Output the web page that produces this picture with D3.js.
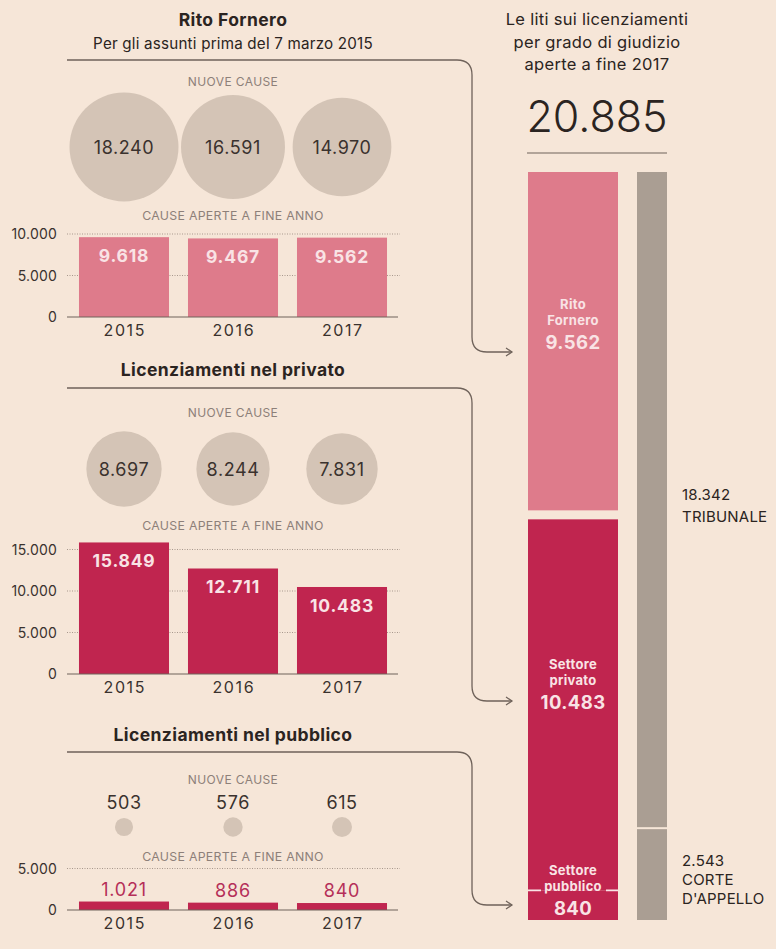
<!DOCTYPE html>
<html>
<head>
<meta charset="utf-8">
<script src="https://cdn.jsdelivr.net/npm/d3@7"></script>
<style>
  body { margin: 0; background: #f6e6d8; }
  svg { display: block; font-family: Inter, "Open Sans", sans-serif; }
</style>
</head>
<body>
<svg id="chart" width="776" height="949"></svg>
<script>
// --- data ---
const years = ["2015", "2016", "2017"];

const forneroNew = [18240, 16591, 14970];
const forneroOpen = [9618, 9467, 9562];
const forneroTicks = [0, 5000, 10000];

const privatoNew = [8697, 8244, 7831];
const privatoOpen = [15849, 12711, 10483];
const privatoTicks = [0, 5000, 10000, 15000];

const pubblicoNew = [503, 576, 615];
const pubblicoOpen = [1021, 886, 840];
const pubblicoTicks = [0, 5000];

const totalOpen = 20885;
const stackNames = [["Rito", "Fornero"], ["Settore", "privato"], ["Settore", "pubblico"]];
const stackValues = [9562, 10483, 840];
const gradeNames = [["TRIBUNALE"], ["CORTE", "D'APPELLO"]];
const gradeValues = [18342, 2543];

// --- styles ---
const INK = "#2b2421";
const GREY_TXT = "#8d8079";
const LINE = "#6f625a";
const CIRCLE = "#d4c4b6";
const PINK = "#de7b8b";
const CRIMSON = "#c0254f";
const GREY_BAR = "#aa9e93";
const LABEL_LIGHT = "#f9e3e5";

const it = d3.formatLocale({ decimal: ",", thousands: ".", grouping: [3], currency: ["€", ""] });
const fmt = it.format(",d");

const svg = d3.select("#chart");

// shared scales
const x = d3.scaleBand().domain(years).range([69.5, 396.5]).paddingInner(0.174).paddingOuter(0.087);
const r = d3.scaleSqrt().domain([0, 18240]).range([0, 54.5]);

const sections = [
  {
    title: "Rito Fornero", sub: "Per gli assunti prima del 7 marzo 2015",
    newVals: forneroNew, openVals: forneroOpen, ticks: forneroTicks, color: PINK,
    titleY: 26, subY: 49, lineY: 60, arrowY: 352, nuoveY: 86, circleY: 147,
    causeY: 220, base: 317, yearY: 336, small: false
  },
  {
    title: "Licenziamenti nel privato", sub: null,
    newVals: privatoNew, openVals: privatoOpen, ticks: privatoTicks, color: CRIMSON,
    titleY: 376, lineY: 388, arrowY: 701, nuoveY: 417, circleY: 469,
    causeY: 530, base: 674, yearY: 693, small: false
  },
  {
    title: "Licenziamenti nel pubblico", sub: null,
    newVals: pubblicoNew, openVals: pubblicoOpen, ticks: pubblicoTicks, color: CRIMSON,
    titleY: 741, lineY: 752, arrowY: 905, nuoveY: 784, circleY: 827,
    causeY: 861, base: 910, yearY: 929, small: true
  }
];

function connector(g, y0, y1) {
  const xr = 472, rad = 15;
  const p = d3.path();
  p.moveTo(67, y0);
  p.lineTo(xr - rad, y0);
  p.quadraticCurveTo(xr, y0, xr, y0 + rad);
  p.lineTo(xr, y1 - rad);
  p.quadraticCurveTo(xr, y1, xr + rad, y1);
  p.lineTo(512, y1);
  g.append("path").attr("d", p.toString()).attr("fill", "none")
    .attr("stroke", LINE).attr("stroke-width", 1.3);
  g.append("path").attr("d", `M506,${y1 - 4}L512,${y1}L506,${y1 + 4}`)
    .attr("fill", "none").attr("stroke", LINE).attr("stroke-width", 1.2);
}

sections.forEach(s => {
  const g = svg.append("g");
  const cx = 233;

  g.append("text").attr("x", cx).attr("y", s.titleY).attr("text-anchor", "middle")
    .attr("font-size", 17.5).attr("font-weight", 700).attr("letter-spacing", 0.4)
    .attr("fill", INK).text(s.title);
  if (s.sub) {
    g.append("text").attr("x", cx).attr("y", s.subY).attr("text-anchor", "middle")
      .attr("font-size", 15.2).attr("letter-spacing", 0.2).attr("fill", INK).text(s.sub);
  }
  connector(g, s.lineY, s.arrowY);

  g.append("text").attr("x", cx).attr("y", s.nuoveY).attr("text-anchor", "middle")
    .attr("font-size", 12).attr("letter-spacing", 0.4).attr("fill", GREY_TXT).text("NUOVE CAUSE");

  // new cases: circles sized by area
  const circ = g.selectAll(".nc").data(s.newVals).join("g")
    .attr("transform", (d, i) => `translate(${x(years[i]) + x.bandwidth() / 2},${s.circleY})`);
  circ.append("circle").attr("r", d => r(d)).attr("fill", CIRCLE);
  circ.append("text").attr("text-anchor", "middle")
    .attr("y", s.small ? -18 : 6.5)
    .attr("font-size", 18).attr("letter-spacing", 0.6).attr("fill", "#3a322e").text(d => fmt(d));

  g.append("text").attr("x", cx).attr("y", s.causeY).attr("text-anchor", "middle")
    .attr("font-size", 12.3).attr("letter-spacing", 0.3).attr("fill", GREY_TXT).text("CAUSE APERTE A FINE ANNO");

  // open cases: bars
  const y = d3.scaleLinear().domain([0, 10000]).range([s.base, s.base - 83]);
  g.selectAll(".grid").data(s.ticks.filter(t => t > 0)).join("line")
    .attr("x1", 67).attr("x2", 400).attr("y1", d => y(d)).attr("y2", d => y(d))
    .attr("stroke", "#a8988d").attr("stroke-width", 1).attr("stroke-dasharray", "1,1.5");
  g.selectAll(".tick").data(s.ticks).join("text")
    .attr("x", 57).attr("y", d => y(d) + 5).attr("text-anchor", "end")
    .attr("font-size", 14).attr("letter-spacing", 0.2).attr("fill", "#3a322e").text(d => fmt(d));

  g.selectAll(".bar").data(s.openVals).join("rect")
    .attr("x", (d, i) => x(years[i])).attr("width", x.bandwidth())
    .attr("y", d => y(d)).attr("height", d => s.base - y(d)).attr("fill", s.color);

  g.selectAll(".bl").data(s.openVals).join("text")
    .attr("x", (d, i) => x(years[i]) + x.bandwidth() / 2)
    .attr("y", d => s.small ? y(d) - 6 : y(d) + 25)
    .attr("text-anchor", "middle")
    .attr("font-size", s.small ? 18 : 17.5).attr("font-weight", s.small ? 400 : 700)
    .attr("letter-spacing", 0.8)
    .attr("fill", s.small ? "#b52f58" : LABEL_LIGHT).text(d => fmt(d));

  const axis = g.append("g").attr("transform", `translate(0,${s.base})`)
    .call(d3.axisBottom(x).tickSize(0).tickPadding(0));
  axis.select(".domain").attr("d", "M67,0H398").attr("stroke", LINE).attr("stroke-width", 1.2);
  axis.selectAll("text").attr("y", s.yearY - s.base).attr("dy", 0)
    .attr("font-size", 16).attr("letter-spacing", 1.6).attr("dx", 0.8)
    .attr("font-family", "Inter, sans-serif").attr("fill", "#3a322e");
});

// --- right panel: stacked totals ---
const rp = svg.append("g");
const titleLines = ["Le liti sui licenziamenti", "per grado di giudizio", "aperte a fine 2017"];
rp.selectAll(".tl").data(titleLines).join("text")
  .attr("x", 597).attr("y", (d, i) => 25 + i * 22.5).attr("text-anchor", "middle")
  .attr("font-size", 16.5).attr("letter-spacing", 0.3).attr("fill", INK).text(d => d);
rp.append("text").attr("x", 597).attr("y", 132).attr("text-anchor", "middle")
  .attr("font-size", 43).attr("font-weight", 300).attr("fill", INK).text(fmt(totalOpen));
rp.append("line").attr("x1", 527).attr("x2", 667).attr("y1", 153).attr("y2", 153)
  .attr("stroke", LINE).attr("stroke-width", 1.2);

const stackTop = 172, stackBottom = 920, gapL = 9, gapR = 2;
const yL = d3.scaleLinear().domain([0, totalOpen]).range([0, stackBottom - stackTop - gapL]);
const yR = d3.scaleLinear().domain([0, totalOpen]).range([0, stackBottom - stackTop - gapR]);

const stackCols = [PINK, CRIMSON, CRIMSON];
const labelCenters = [342, 702, 908];
let acc = 0;
stackValues.forEach((v, i) => {
  const y0 = stackTop + yL(acc) + (i > 0 ? gapL : 0);
  const h = yL(v);
  rp.append("rect").attr("x", 528).attr("y", y0).attr("width", 90).attr("height", h)
    .attr("fill", stackCols[i]);
  if (i === 2) {
    rp.append("path").attr("d", `M528,${y0}H541M606,${y0}H618`)
      .attr("stroke", LABEL_LIGHT).attr("stroke-width", 1.8);
  }
  const lc = labelCenters[i];
  stackNames[i].forEach((n, j) => {
    rp.append("text").attr("x", 573).attr("y", lc - 33 + j * 16).attr("text-anchor", "middle")
      .attr("font-size", 13).attr("font-weight", 700).attr("letter-spacing", 0.3)
      .attr("fill", LABEL_LIGHT).text(n);
  });
  rp.append("text").attr("x", 573).attr("y", lc + 7).attr("text-anchor", "middle")
    .attr("font-size", 18.5).attr("font-weight", 700).attr("letter-spacing", 0.4)
    .attr("fill", LABEL_LIGHT).text(fmt(v));
  acc += v;
});

const gradeLabelY = [500, 866];
acc = 0;
gradeValues.forEach((v, i) => {
  const y0 = stackTop + yR(acc) + (i > 0 ? gapR : 0);
  rp.append("rect").attr("x", 637).attr("y", y0).attr("width", 30).attr("height", yR(v))
    .attr("fill", GREY_BAR);
  const lines = [fmt(v)].concat(gradeNames[i]);
  lines.forEach((t, j) => {
    rp.append("text").attr("x", 682).attr("y", gradeLabelY[i] + j * (i === 0 ? 22 : 19))
      .attr("font-size", 15).attr("letter-spacing", 0.2).attr("fill", INK).text(t);
  });
  acc += v;
});
</script>
</body>
</html>
